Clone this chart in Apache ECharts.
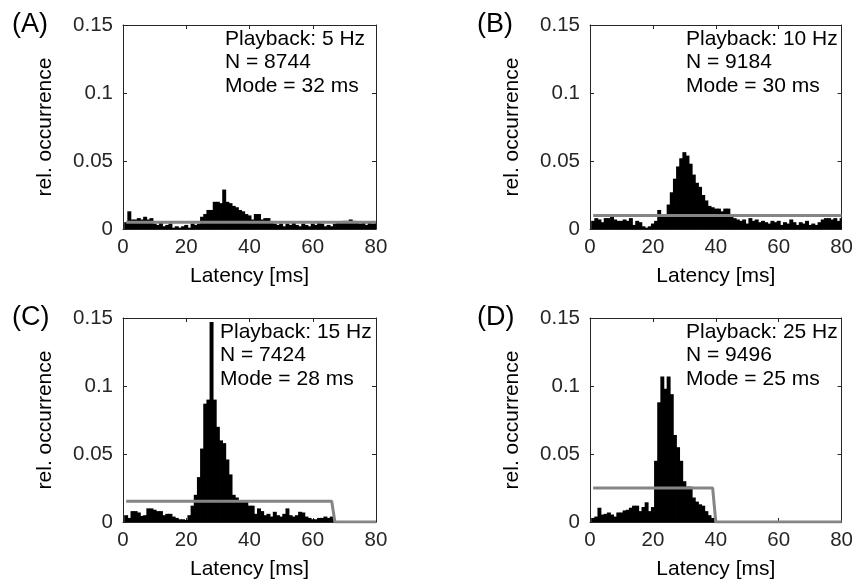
<!DOCTYPE html>
<html>
<head>
<meta charset="utf-8">
<script src="https://cdn.jsdelivr.net/npm/echarts@6/dist/echarts.min.js"></script>
<style>
html,body{margin:0;padding:0;background:#fff;}
#chart{width:856px;height:585px;}
</style>
</head>
<body>
<div id="chart"></div>
<script>
// ---- data ----
const latencyBins = Array.from({length: 80}, (_, i) => i + 1); // bin centres in ms
const xTicks = [0, 20, 40, 60, 80];
const yTicks = [0, 0.05, 0.1, 0.15];

const panelLetters = ['(A)', '(B)', '(C)', '(D)'];
const playbackRates = ['5 Hz', '10 Hz', '15 Hz', '25 Hz'];
const sampleSizes = [8744, 9184, 7424, 9496];
const modes = [32, 30, 28, 25];

const histA = [0.005,0.013,0.007,0.007,0.008,0.007,0.009,0.007,0.008,0.004,
  0.003,0.005,0.002,0.003,0.004,0.001,0.002,0.001,0.002,0.003,
  0.001,0.004,0.003,0.004,0.009,0.011,0.014,0.014,0.020,0.020,
  0.019,0.029,0.020,0.019,0.017,0.016,0.014,0.013,0.011,0.010,
  0.007,0.011,0.011,0.007,0.008,0.008,0.005,0.004,0.003,0.004,
  0.002,0.004,0.003,0.005,0.003,0.002,0.004,0.003,0.002,0.004,
  0.003,0.005,0.004,0.002,0.003,0.002,0.004,0.005,0.005,0.006,
  0.006,0.007,0.006,0.005,0.004,0.005,0.003,0.005,0.004,0.005];
const histB = [0.006,0.008,0.007,0.005,0.008,0.008,0.009,0.007,0.006,0.006,
  0.007,0.006,0.008,0.003,0.006,0.005,0.002,0.001,0.002,0.004,
  0.006,0.014,0.011,0.011,0.018,0.027,0.037,0.046,0.052,0.0565,
  0.054,0.048,0.040,0.034,0.031,0.025,0.021,0.017,0.016,0.015,
  0.015,0.013,0.015,0.015,0.009,0.008,0.007,0.006,0.007,0.004,
  0.008,0.006,0.007,0.005,0.006,0.005,0.004,0.006,0.005,0.006,
  0.003,0.005,0.004,0.007,0.005,0.003,0.005,0.004,0.006,0.003,
  0.004,0.003,0.005,0.007,0.008,0.008,0.007,0.008,0.006,0.008];
const histC = [0.005,0.003,0.008,0.008,0.007,0.0045,0.005,0.010,0.010,0.009,
  0.008,0.008,0.005,0.006,0.006,0.004,0.003,0.002,0.002,0.0015,
  0.005,0.012,0.020,0.033,0.054,0.087,0.090,0.147,0.090,0.070,
  0.060,0.058,0.046,0.035,0.020,0.018,0.016,0.016,0.015,0.012,
  0.012,0.006,0.010,0.008,0.005,0.006,0.004,0.0075,0.005,0.004,
  0.006,0.010,0.005,0.004,0.005,0.0075,0.007,0.004,0.003,0.002,
  0.002,0.003,0.003,0.004,0.003,0.004,0,0,0,0,
  0,0,0,0,0,0,0,0,0,0];
const histD = [0.003,0.004,0.0105,0.0055,0.006,0.007,0.0055,0.004,0.007,0.007,
  0.0085,0.009,0.0105,0.012,0.012,0.008,0.011,0.0145,0.008,0.011,
  0.045,0.088,0.107,0.098,0.107,0.094,0.064,0.055,0.045,0.030,
  0.026,0.026,0.018,0.015,0.013,0.012,0.008,0.005,0.003,0,
  0,0,0,0,0,0,0,0,0,0,
  0,0,0,0,0,0,0,0,0,0,
  0,0,0,0,0,0,0,0,0,0,
  0,0,0,0,0,0,0,0,0,0];

// expected (uniform) level lines: x in ms, y rel. occurrence
const levelAx = [1, 80], levelAy = [0.005, 0.005];
const levelBx = [1, 80], levelBy = [0.010, 0.010];
const levelCx = [1, 66, 67, 80], levelCy = [0.0152, 0.0152, 0, 0];
const levelDx = [1, 39, 40, 80], levelDy = [0.025, 0.025, 0, 0];

const hists = [histA, histB, histC, histD];
const levels = [[levelAx, levelAy], [levelBx, levelBy], [levelCx, levelCy], [levelDx, levelDy]];

// ---- layout ----
const grids = [
  {left: 123, top: 25, width: 253, height: 204},
  {left: 590, top: 25, width: 253, height: 204},
  {left: 123, top: 318, width: 253, height: 204},
  {left: 590, top: 318, width: 253, height: 204}
];
const letterPos = [[12, 11], [477, 11], [12, 304], [477, 304]];
const textPos = [[225, 27], [686, 27], [220, 320], [686, 320]];

const FONT = '"Liberation Sans", Arial, sans-serif';
const AX = '#262626';

function renderBar(params, api) {
  const x = api.value(0), y = api.value(1);
  if (!(y > 0)) return null;
  const p0 = api.coord([x - 0.5, y]);
  const p1 = api.coord([x + 0.5, 0]);
  const cs = params.coordSys;
  const rect = echarts.graphic.clipRectByRect(
    {x: p0[0] - 0.4, y: p0[1], width: p1[0] - p0[0] + 0.8, height: p1[1] - p0[1]},
    {x: cs.x, y: cs.y, width: cs.width, height: cs.height});
  if (!rect) return null;
  return {type: 'rect', shape: rect, style: {fill: '#000'}};
}

const xAxis = [], yAxis = [], series = [], title = [];
grids.forEach((g, i) => {
  const base = {
    type: 'value', gridIndex: i, min: xTicks[0], max: xTicks[xTicks.length - 1], interval: 20,
    axisLine: {show: true, onZero: false, lineStyle: {color: AX, width: 1}},
    axisTick: {show: true, inside: true, length: 4, lineStyle: {color: AX}},
    splitLine: {show: false}
  };
  xAxis.push(Object.assign({}, base, {
    position: 'bottom',
    name: 'Latency [ms]', nameLocation: 'middle', nameGap: 37,
    nameTextStyle: {fontFamily: FONT, fontSize: 21, color: '#000'},
    axisLabel: {fontFamily: FONT, fontSize: 20.5, color: AX, margin: 8}
  }));
  xAxis.push(Object.assign({}, base, {position: 'top', axisLabel: {show: false}}));
  const ybase = {
    type: 'value', gridIndex: i, min: yTicks[0], max: yTicks[yTicks.length - 1], interval: 0.05,
    axisLine: {show: true, onZero: false, lineStyle: {color: AX, width: 1}},
    axisTick: {show: true, inside: true, length: 4, lineStyle: {color: AX}},
    splitLine: {show: false}
  };
  yAxis.push(Object.assign({}, ybase, {
    position: 'left',
    name: 'rel. occurrence', nameLocation: 'middle', nameGap: 67, nameRotate: 90,
    nameTextStyle: {fontFamily: FONT, fontSize: 21, color: '#000'},
    axisLabel: {fontFamily: FONT, fontSize: 20.5, color: AX, margin: 10,
      formatter: v => { const t = yTicks.find(k => Math.abs(k - v) < 1e-9); return t === undefined ? '' : String(t); }}
  }));
  yAxis.push(Object.assign({}, ybase, {position: 'right', axisLabel: {show: false}}));

  series.push({
    type: 'custom', xAxisIndex: 2 * i, yAxisIndex: 2 * i,
    renderItem: renderBar, clip: true,
    encode: {x: 0, y: 1},
    data: latencyBins.map((b, k) => [b, hists[i][k]]), z: 2
  });
  const lv = levels[i];
  series.push({
    type: 'line', xAxisIndex: 2 * i, yAxisIndex: 2 * i,
    data: lv[0].map((x, k) => [x, lv[1][k]]),
    showSymbol: false, symbol: 'none', clip: true,
    lineStyle: {color: '#858585', width: 3}, z: 3, animation: false
  });

  title.push({
    text: panelLetters[i], left: letterPos[i][0], top: letterPos[i][1],
    padding: 0,
    textStyle: {fontFamily: FONT, fontSize: 27, fontWeight: 'normal', color: '#000'}
  });
  title.push({
    text: 'Playback: ' + playbackRates[i] + '\nN = ' + sampleSizes[i] + '\nMode = ' + modes[i] + ' ms',
    left: textPos[i][0], top: textPos[i][1], padding: 0,
    textStyle: {fontFamily: FONT, fontSize: 21, fontWeight: 'normal', color: '#000', lineHeight: 23.5}
  });
});

const chart = echarts.init(document.getElementById('chart'), null, {renderer: 'canvas'});
chart.setOption({
  animation: false,
  backgroundColor: '#fff',
  title: title,
  grid: grids,
  xAxis: xAxis,
  yAxis: yAxis,
  series: series
});
</script>
</body>
</html>
